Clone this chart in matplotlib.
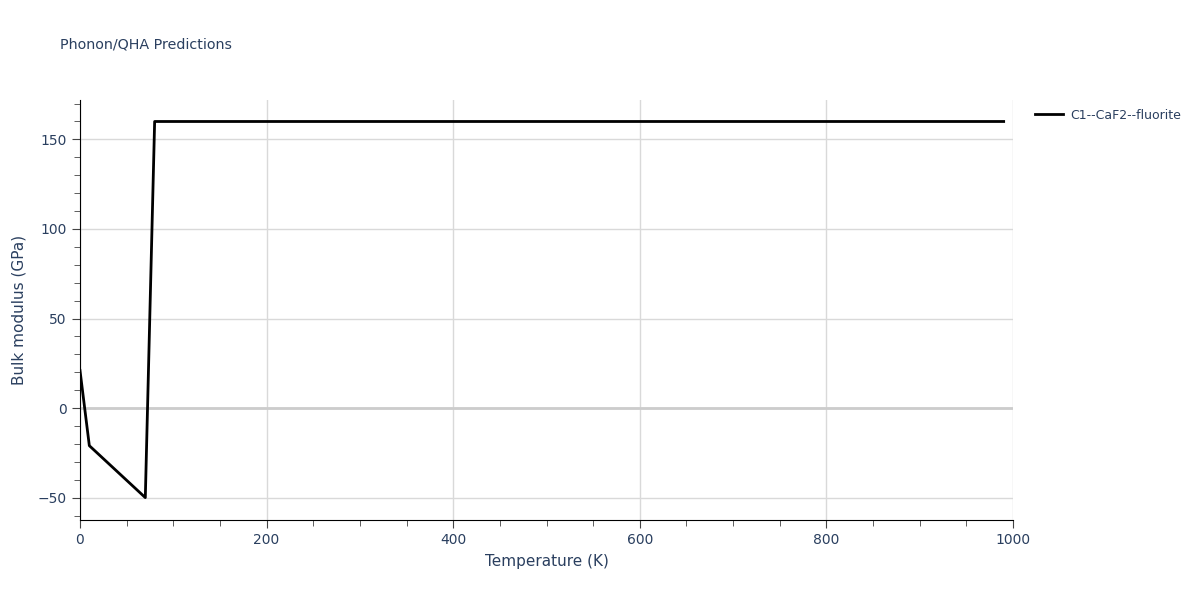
import matplotlib.pyplot as plt
from matplotlib.ticker import MultipleLocator

temps = [0, 10, 70, 80, 990]
bulk = [21, -21, -50, 160, 160]
label = "C1--CaF2--fluorite"

txt = "#2a3f5f"
grid = "#d9d9d9"

fig = plt.figure(figsize=(12, 6), dpi=100)
ax = fig.add_axes([80 / 1200, 80 / 600, 933 / 1200, 420 / 600])
ax.plot(temps, bulk, c="black", lw=2, label=label)

ax.set_xlim(0, 1000)
ax.set_ylim(-62.5, 172)
ax.xaxis.set_major_locator(MultipleLocator(200))
ax.xaxis.set_minor_locator(MultipleLocator(50))
ax.yaxis.set_major_locator(MultipleLocator(50))
ax.yaxis.set_minor_locator(MultipleLocator(10))
ax.grid(True, which="major", color=grid, lw=1)
ax.axhline(0, color="#cccccc", lw=2, zorder=1)
ax.set_axisbelow(True)

for s in ["top", "right"]:
    ax.spines[s].set_visible(False)
for s in ["left", "bottom"]:
    ax.spines[s].set_color("black")
ax.tick_params(which="both", colors="#444444", labelcolor=txt, labelsize=10)
ax.tick_params(which="major", length=6)
ax.tick_params(which="minor", length=4)

ax.set_xlabel("Temperature (K)", color=txt, fontsize=11, labelpad=5)
ax.set_ylabel("Bulk modulus (GPa)", color=txt, fontsize=11, labelpad=8)
fig.text(60 / 1200, 1 - 45 / 600, "Phonon/QHA Predictions", color=txt, fontsize=10.3, va="center")

ax.legend(loc="upper left", bbox_to_anchor=(1.012, 1.006), frameon=False,
          labelcolor=txt, fontsize=9, handlelength=2.2, handletextpad=0.6)

fig.savefig("out.png")
